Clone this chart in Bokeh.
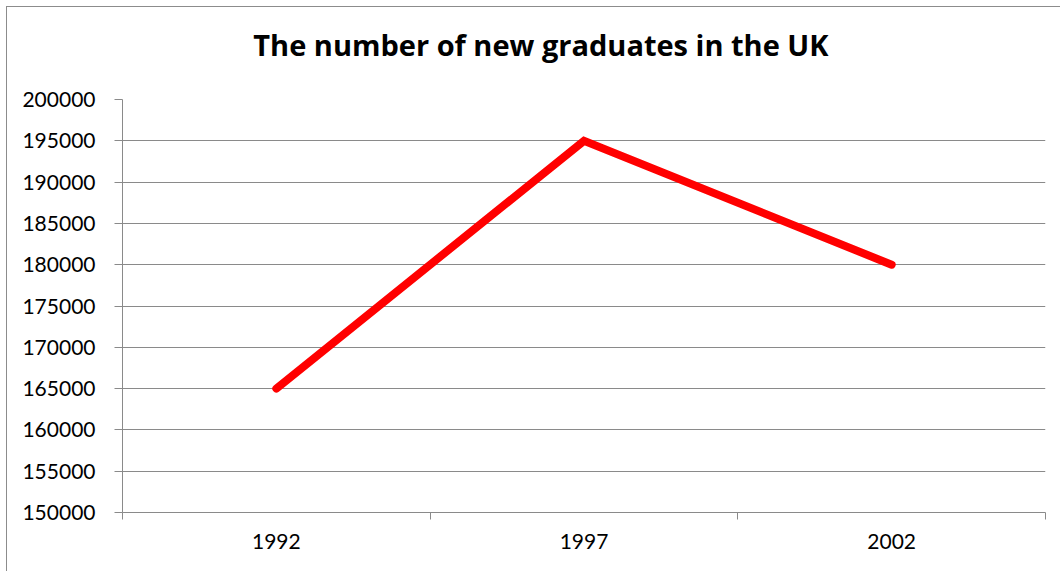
from bokeh.plotting import figure
from bokeh.models import FixedTicker, Range1d, ColumnDataSource
from bokeh.embed import file_html
from bokeh.resources import INLINE

# data
title_text = "The number of new graduates in the UK"
years = ["1992", "1997", "2002"]
graduates = [165000, 195000, 180000]
y_ticks = [150000, 155000, 160000, 165000, 170000, 175000, 180000, 185000, 190000, 195000, 200000]
y_labels = ["150000", "155000", "160000", "165000", "170000", "175000", "180000", "185000", "190000", "195000", "200000"]

xpos = [i + 0.5 for i in range(len(years))]
src = ColumnDataSource(dict(x=xpos, y=graduates, year=years))

FONT = "Lato"
GRID = "#8a8a8a"

p = figure(width=1054, height=565, output_backend="svg", toolbar_location=None,
           x_range=Range1d(0, len(years)), y_range=Range1d(150000, 200000),
           min_border_left=115, min_border_right=16, min_border_top=92, min_border_bottom=60)
p.styles = {"border-left": "1px solid #8c8c8c", "border-top": "1px solid #8c8c8c",
            "margin-left": "6px", "margin-top": "6px"}

p.title.text = title_text
p.title.text_font = "Open Sans"
p.title.text_font_size = "29px"
p.title.text_font_style = "bold"
p.title.text_color = "black"
p.title.align = "right"
p.title.offset = 217
p.title.standoff = 10
p.title.padding = dict(left=0, right=0, top=0, bottom=31)

p.outline_line_color = None
p.xgrid.grid_line_color = None
p.ygrid.grid_line_color = GRID
p.ygrid.grid_line_width = 1
p.ygrid.ticker = FixedTicker(ticks=y_ticks)

# y axis
p.yaxis.ticker = FixedTicker(ticks=y_ticks)
p.yaxis.major_label_overrides = {t: l for t, l in zip(y_ticks, y_labels)}
p.yaxis.axis_line_color = GRID
p.yaxis.major_tick_line_color = GRID
p.yaxis.major_tick_out = 8
p.yaxis.major_tick_in = 0
p.yaxis.minor_tick_line_color = None
p.yaxis.major_label_text_font = FONT
p.yaxis.major_label_text_font_size = "21px"
p.yaxis.major_label_standoff = 19
p.yaxis.major_label_text_color = "black"

# x axis: labels at category centres, tick marks at category boundaries
p.xaxis.ticker = FixedTicker(ticks=xpos, minor_ticks=list(range(len(years) + 1)))
p.xaxis.major_label_overrides = {x: y for x, y in zip(xpos, years)}
p.xaxis.axis_line_color = GRID
p.xaxis.major_tick_line_color = None
p.xaxis.major_tick_out = 0
p.xaxis.major_tick_in = 0
p.xaxis.minor_tick_line_color = GRID
p.xaxis.minor_tick_out = 7
p.xaxis.minor_tick_in = 0
p.xaxis.major_label_text_font = FONT
p.xaxis.major_label_text_font_size = "21px"
p.xaxis.major_label_standoff = 14
p.xaxis.major_label_text_color = "black"

p.line("x", "y", source=src, line_color="#ff0000", line_width=8,
       line_cap="round", line_join="miter")

open("out.html", "w").write(file_html(p, INLINE))
